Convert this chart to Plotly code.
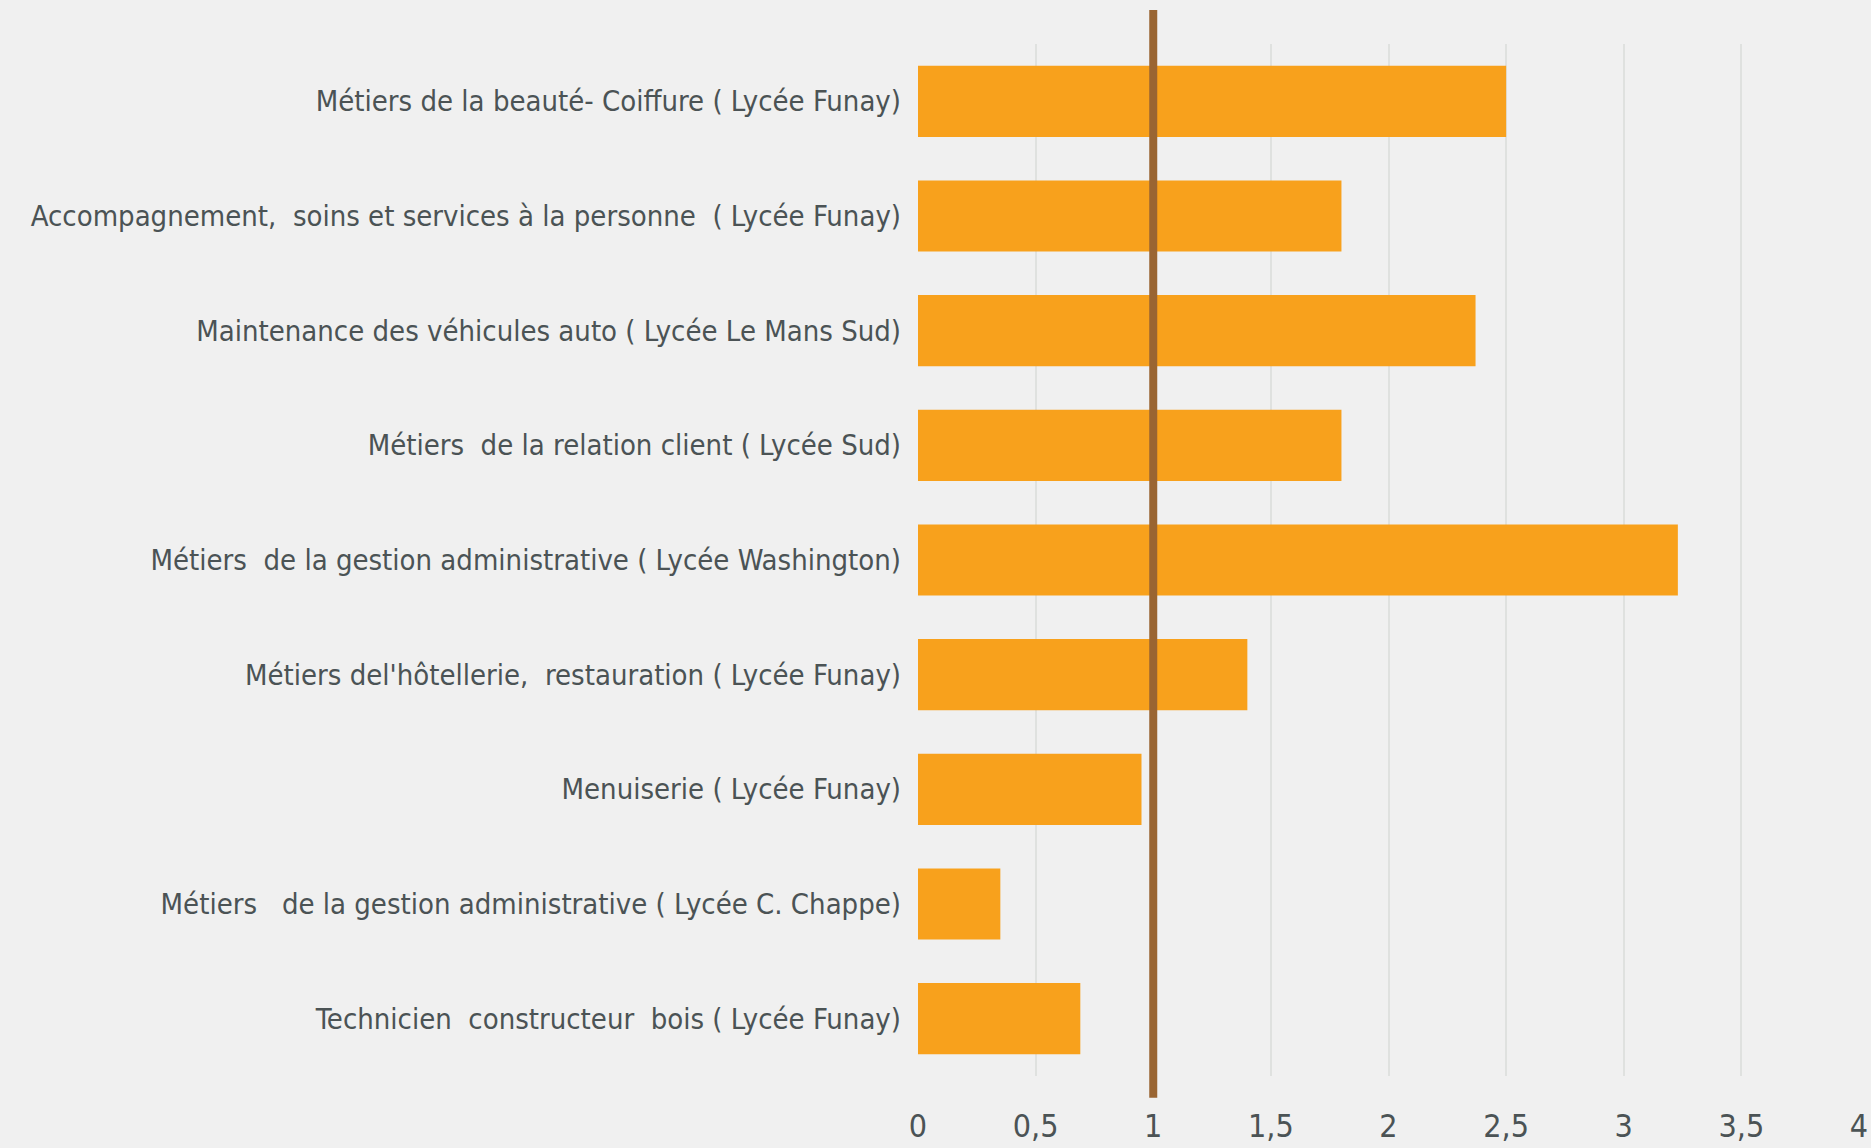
import plotly.graph_objects as go

categories = [
    "Métiers de la beauté- Coiffure ( Lycée Funay)",
    "Accompagnement,  soins et services à la personne  ( Lycée Funay)",
    "Maintenance des véhicules auto ( Lycée Le Mans Sud)",
    "Métiers  de la relation client ( Lycée Sud)",
    "Métiers  de la gestion administrative ( Lycée Washington)",
    "Métiers del'hôtellerie,  restauration ( Lycée Funay)",
    "Menuiserie ( Lycée Funay)",
    "Métiers   de la gestion administrative ( Lycée C. Chappe)",
    "Technicien  constructeur  bois ( Lycée Funay)",
]
values = [2.5, 1.8, 2.37, 1.8, 3.23, 1.4, 0.95, 0.35, 0.69]
tick_vals = [0, 0.5, 1, 1.5, 2, 2.5, 3, 3.5, 4]
tick_text = ["0", "0,5", "1", "1,5", "2", "2,5", "3", "3,5", "4"]
reference_value = 1

labels = [c.replace("  ", "\u00a0 ") for c in categories]

FONT = "Liberation Sans Narrow, DejaVu Sans Condensed, sans-serif"
TXT = "#4b5355"

fig = go.Figure()
fig.add_trace(go.Bar(
    x=values, y=labels, orientation="h",
    marker=dict(color="#f8a11c", line=dict(width=0)),
    width=0.62,
))
fig.add_shape(type="line", xref="x", yref="paper",
              x0=reference_value, x1=reference_value, y0=-0.021, y1=1.033,
              line=dict(color="#9a6532", width=8), layer="above")

fig.update_layout(
    width=1871, height=1148,
    paper_bgcolor="#f0f0f0", plot_bgcolor="#f0f0f0",
    margin=dict(l=918, r=12, t=44, b=72, autoexpand=False),
    showlegend=False,
    font=dict(family=FONT, color=TXT, size=29),
    xaxis=dict(range=[0, 4], tickvals=tick_vals, ticktext=tick_text,
               showgrid=True, gridcolor="#dfe1df", gridwidth=2,
               zeroline=False, showline=False, ticks="", automargin=False,
               tickfont=dict(size=32, color=TXT), ticklabelstandoff=28),
    yaxis=dict(autorange="reversed", showgrid=False, ticks="", automargin=False,
               tickfont=dict(size=29, color=TXT), ticklabelstandoff=16),
    bargap=0.38,
)
fig.write_html("out.html", config={"displayModeBar": False},
               post_script="document.body.style.margin='0';document.body.style.background='#f0f0f0';")
